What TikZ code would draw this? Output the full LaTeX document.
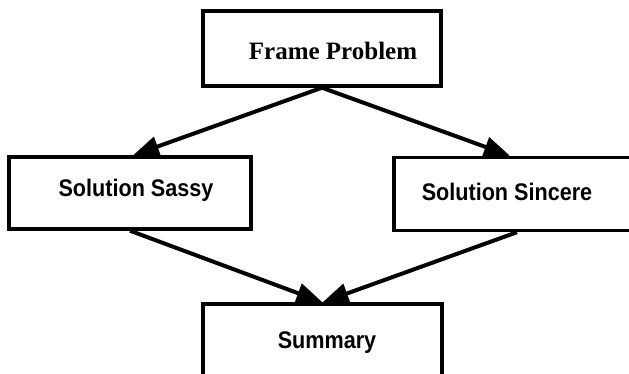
\documentclass[tikz,border=0pt]{standalone}
\usepackage{fontspec}
\setmainfont{Liberation Serif}
\newfontfamily\labelsans{Liberation Sans}
\usetikzlibrary{arrows.meta}
\newcommand{\narrowtext}[1]{\scalebox{0.9}[1]{#1}}
\begin{document}
\begin{tikzpicture}[x=1pt,y=-1pt,
  box/.style={draw=black, line width=3.4pt, minimum width=#1, inner sep=0pt},
  serifname/.style={font=\bfseries\fontsize{25}{30}\selectfont, inner sep=0pt},
  sansname/.style={font=\labelsans\bfseries\fontsize{24}{28}\selectfont, inner sep=0pt},
  flow/.style={line width=4pt, -{Triangle[length=26pt,width=20pt]}}
]
\useasboundingbox (0,0) rectangle (629,373);
\clip (0,0) rectangle (629,373);

% boxes
\node[box=238pt, minimum height=75pt] (frame) at (322,48.5) {};
\node[box=242pt, minimum height=72pt] (sassy) at (130,193) {};
\node[box=246pt, minimum height=73pt] (sincere) at (517,194) {};
\node[box=239pt, minimum height=75pt] (summary) at (322.5,341.5) {};

% labels
\node[serifname] (framet) at (333,51) {Frame Problem};
\node[sansname] (sassyt) at (136,190) {\narrowtext{Solution Sassy}};
\node[sansname] (sinceret) at (507,192) {\narrowtext{Solution Sincere}};
\node[sansname] (summaryt) at (327,343) {\narrowtext{Summary}};

% connectors
\draw[flow] (frame.south) -- ([xshift=3pt]sassy.north);
\draw[flow] (frame.south) -- ([xshift=-7pt]sincere.north);
\draw[flow] (sassy.south) -- (summary.north);
\draw[flow] (sincere.south) -- (summary.north);
\end{tikzpicture}
\end{document}
